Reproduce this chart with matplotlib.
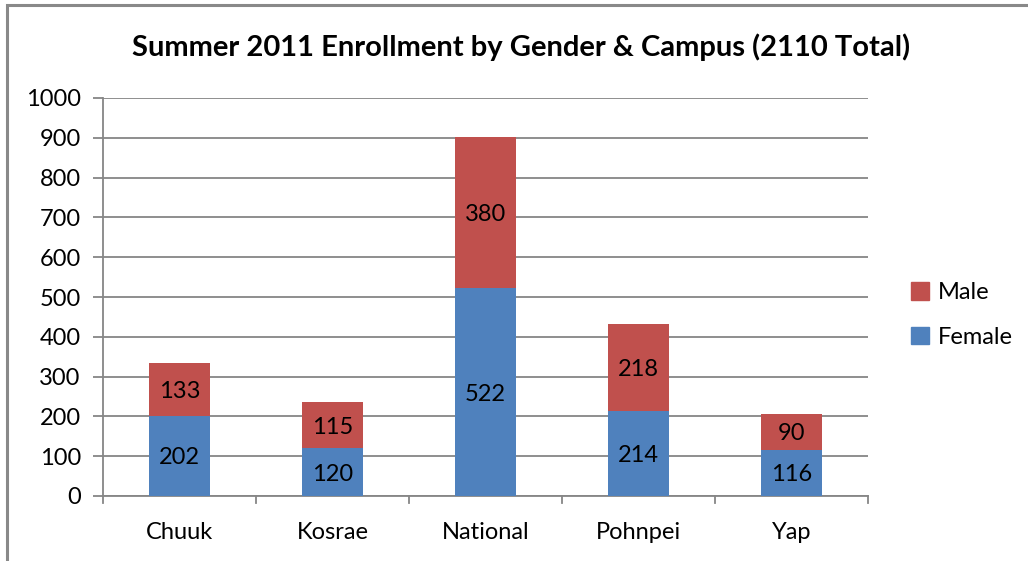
import matplotlib
matplotlib.use("Agg")
import matplotlib.pyplot as plt
from matplotlib.patches import Rectangle, Patch

plt.rcParams['font.family'] = ['Lato', 'DejaVu Sans']

campuses = ["Chuuk", "Kosrae", "National", "Pohnpei", "Yap"]
female = [202, 120, 522, 214, 116]
male = [133, 115, 380, 218, 90]
yticks = [0, 100, 200, 300, 400, 500, 600, 700, 800, 900, 1000]
title = "Summer 2011 Enrollment by Gender & Campus (2110 Total)"

W, H = 1028, 561
fig = plt.figure(figsize=(W / 100, H / 100), dpi=100)
fig.patch.set_facecolor("white")

# chart border (extends beyond right/bottom edges)
fig.add_artist(Rectangle((7 / W, -0.1), 1.2, 1 - 5 / H + 0.1, transform=fig.transFigure,
                         fill=False, edgecolor="#898989", linewidth=2.2))

left, right, bottom, top = 103, 868, 496, 98
ax = fig.add_axes([left / W, 1 - bottom / H, (right - left) / W, (bottom - top) / H])

x = list(range(len(campuses)))
blue = "#4F81BD"
red = "#C0504D"
bw = 0.4
FS = 17
ax.bar(x, female, width=bw, color=blue, zorder=3, label="Female")
ax.bar(x, male, width=bw, bottom=female, color=red, zorder=3, label="Male")

for i in x:
    ax.text(i, female[i] / 2, str(female[i]), ha="center", va="center_baseline", fontsize=FS, zorder=4)
    ax.text(i, female[i] + male[i] / 2, str(male[i]), ha="center", va="center_baseline", fontsize=FS, zorder=4)

ax.set_xlim(-0.5, len(campuses) - 0.5)
ax.set_ylim(0, 1000)
ax.set_yticks(yticks)
ax.set_yticklabels([str(v) for v in yticks], fontsize=FS)
ax.set_xticks(x)
ax.set_xticklabels(campuses, fontsize=FS)
ax.tick_params(axis="x", length=0, pad=19)
ax.tick_params(axis="y", length=7, width=1.3, color="#868686", pad=9)
ax.yaxis.grid(True, color="#868686", linewidth=1.3, zorder=0)
for s in ["top", "right"]:
    ax.spines[s].set_visible(False)
ax.spines["left"].set_color("#868686")
ax.spines["bottom"].set_color("#868686")
ax.spines["left"].set_linewidth(1.3)
ax.spines["bottom"].set_linewidth(1.3)

# category separator ticks on x axis
for b in [i + 0.5 for i in range(-1, len(campuses))]:
    ax.plot([b, b], [0, -18], color="#868686", linewidth=1.3, clip_on=False, zorder=2)

fig.text(521 / W, 1 - 47 / H, title, ha="center", va="center", fontsize=21, fontweight="bold")

handles = [Patch(facecolor=red, edgecolor=red), Patch(facecolor=blue, edgecolor=blue)]
fig.legend(handles, ["Male", "Female"], loc="center left", bbox_to_anchor=(911 / W, 1 - 315 / H),
           frameon=False, fontsize=FS, handlelength=0.75, handleheight=0.75, handletextpad=0.4,
           labelspacing=1.0, borderpad=0, borderaxespad=0)

fig.savefig("out.png", dpi=100, facecolor="white")
